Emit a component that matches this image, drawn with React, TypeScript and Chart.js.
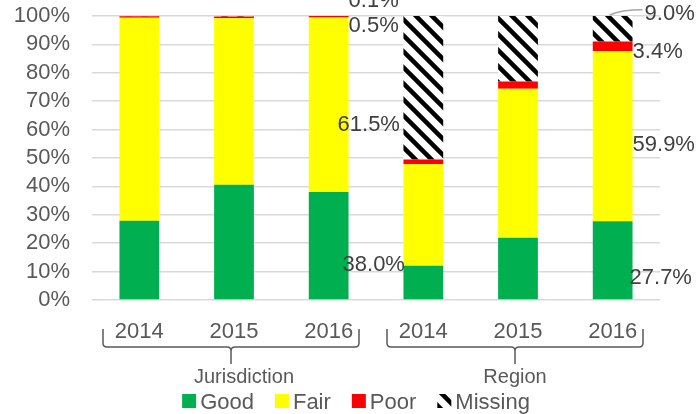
import React, { useEffect, useRef } from "react";
import { Chart, registerables } from "chart.js";
Chart.register(...registerables);

const years = ["2014", "2015", "2016", "2014", "2015", "2016"];
const groups = ["Jurisdiction", "Region"];
const seriesNames = ["Good", "Fair", "Poor", "Missing"];
const good = [27.9, 40.6, 38.0, 12.1, 21.9, 27.7];
const fair = [71.5, 58.6, 61.5, 35.7, 52.5, 59.9];
const poor = [0.5, 0.6, 0.5, 1.7, 2.5, 3.4];
const missing = [0.1, 0.2, 0.1, 50.5, 23.1, 9.0];
const labelledBars = [2, 5];

const FONT = '"Liberation Sans", Arial, sans-serif';
const TEXT_GREY = "#595959";
const LABEL_GREY = "#404040";

// manual label nudges [dx from bar right edge, dy from segment middle] per series
const labelNudges: Record<number, number[][]> = {
  2: [[-6, 17], [-11, 18], [0, 7], [0, -17]],
  5: [[-3, 15], [0, 7], [0, 4], [12, -17]],
};
const groupTitleDx = [13, 0];

function makeStripePattern(): CanvasPattern | string {
  const c = document.createElement("canvas");
  c.width = 16;
  c.height = 16;
  const g = c.getContext("2d");
  if (!g) return "#000";
  g.fillStyle = "#ffffff";
  g.fillRect(0, 0, 16, 16);
  g.strokeStyle = "#000000";
  g.lineWidth = 4.5;
  for (const k of [-16, 0, 16]) {
    g.beginPath();
    g.moveTo(-4, -4 + k);
    g.lineTo(20, 20 + k);
    g.stroke();
  }
  const p = g.createPattern(c, "repeat");
  return p || "#000";
}

export default function App() {
  const ref = useRef<HTMLCanvasElement | null>(null);

  useEffect(() => {
    document.body.style.margin = "0";
    const canvas = ref.current;
    if (!canvas) return;
    const pattern = makeStripePattern();
    const colors: any[] = ["#00b050", "#ffff00", "#ff0000", pattern];
    const values = [good, fair, poor, missing];

    const overlay = {
      id: "overlay",
      afterDraw(chart: any) {
        const ctx = chart.ctx as CanvasRenderingContext2D;
        const x = chart.scales.x;
        const y = chart.scales.y;
        const catW = x.getPixelForValue(1) - x.getPixelForValue(0);
        ctx.save();

        // data labels
        ctx.font = `22px ${FONT}`;
        ctx.fillStyle = LABEL_GREY;
        ctx.textAlign = "left";
        ctx.textBaseline = "alphabetic";
        for (const bi of labelledBars) {
          const meta0 = chart.getDatasetMeta(0);
          const bar = meta0.data[bi];
          const right = bar.x + bar.width / 2;
          let cum = 0;
          values.forEach((arr, si) => {
            const v = arr[bi];
            const mid = y.getPixelForValue(cum + v / 2);
            cum += v;
            const [dx, dy] = labelNudges[bi][si];
            const lx = right + dx;
            const cy = mid + dy;
            ctx.fillText(v.toFixed(1) + "%", lx, cy + 8);
            if (si === 3 && dx > 6) {
              ctx.strokeStyle = "#a6a6a6";
              ctx.lineWidth = 1.5;
              ctx.beginPath();
              ctx.moveTo(bar.x - 3, y.getPixelForValue(100) - 1);
              ctx.quadraticCurveTo(bar.x + 8, cy - 2, lx - 2, cy - 2);
              ctx.stroke();
            }
          });
        }

        // year labels
        ctx.fillStyle = TEXT_GREY;
        ctx.textAlign = "center";
        ctx.font = `22px ${FONT}`;
        years.forEach((yr, i) => {
          ctx.fillText(yr, x.getPixelForValue(i), 338);
        });

        // braces + group titles
        ctx.strokeStyle = TEXT_GREY;
        ctx.lineWidth = 1.5;
        groups.forEach((name, g) => {
          const left = x.getPixelForValue(g * 3) - catW / 2 + 11;
          const right = x.getPixelForValue(g * 3 + 2) + catW / 2 - 17;
          const mid = (left + right) / 2;
          const t = 329, h = 347, b = 364, r = 4;
          ctx.beginPath();
          ctx.moveTo(left, t);
          ctx.lineTo(left, h - r);
          ctx.quadraticCurveTo(left, h, left + r, h);
          ctx.lineTo(mid - r, h);
          ctx.quadraticCurveTo(mid, h, mid, h + r);
          ctx.lineTo(mid, b);
          ctx.moveTo(mid, h + r);
          ctx.quadraticCurveTo(mid, h, mid + r, h);
          ctx.lineTo(right - r, h);
          ctx.quadraticCurveTo(right, h, right, h - r);
          ctx.lineTo(right, t);
          ctx.stroke();
          ctx.font = `20px ${FONT}`;
          ctx.fillText(name, mid + groupTitleDx[g], 383);
        });

        // legend
        ctx.font = `22px ${FONT}`;
        ctx.textAlign = "left";
        const box = 14, gap = 4, itemGap = 21;
        const widths = seriesNames.map((n) => box + gap + ctx.measureText(n).width);
        const total = widths.reduce((a, b) => a + b, 0) + itemGap * (seriesNames.length - 1);
        let lx = 356 - total / 2;
        seriesNames.forEach((n, i) => {
          ctx.fillStyle = colors[i];
          ctx.fillRect(lx, 394, box, box);
          ctx.fillStyle = TEXT_GREY;
          ctx.fillText(n, lx + box + gap, 409);
          lx += widths[i] + itemGap;
        });
        ctx.restore();
      },
    };

    const chart = new Chart(canvas, {
      type: "bar",
      data: {
        labels: years.map((yr, i) => groups[Math.floor(i / 3)] + " " + yr),
        datasets: seriesNames.map((n, i) => ({
          label: n,
          data: values[i],
          backgroundColor: colors[i],
          borderWidth: 0,
          barPercentage: 0.42,
          categoryPercentage: 1,
        })),
      },
      options: {
        animation: false,
        responsive: false,
        layout: { padding: { top: 16, right: 40, bottom: 114, left: 0 } },
        plugins: { legend: { display: false }, tooltip: { enabled: false } },
        scales: {
          x: { stacked: true, display: false },
          y: {
            stacked: true,
            min: 0,
            max: 100,
            border: { display: false },
            grid: { color: "#d9d9d9", lineWidth: 1.5, drawTicks: false },
            ticks: {
              stepSize: 10,
              autoSkip: false,
              padding: 22,
              color: TEXT_GREY,
              font: { size: 22, family: FONT },
              callback: (v: any) => v + "%",
            },
            afterFit: (s: any) => {
              s.width = 92;
              s.paddingTop = 0;
              s.paddingBottom = 0;
            },
          },
        },
      },
      plugins: [overlay],
    });
    return () => chart.destroy();
  }, []);

  return (
    <div style={{ width: 700, height: 414 }}>
      <canvas ref={ref} width={700} height={414} />
    </div>
  );
}
